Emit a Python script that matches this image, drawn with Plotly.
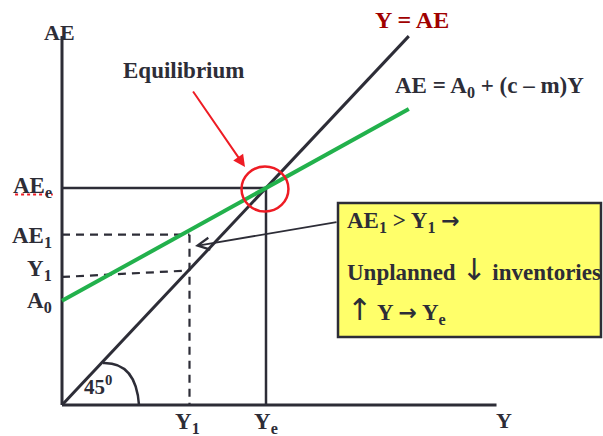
import plotly.graph_objects as go

# ---- data (economic units) ----
Y_MAX = 340            # end of the 45-degree line
A0 = 96                # autonomous expenditure
MPC_NET = 0.52         # (c - m)
YE = 200               # equilibrium income
AEE = 200              # equilibrium expenditure
Y1 = 125               # income below equilibrium
AE1 = 157              # expenditure at Y1
Y1_LEVEL = [118, 124]  # dashed Y1 guide (left, right)
X_AXIS_END = 426
Y_AXIS_END = 340

line45_x = [0, Y_MAX]
line45_y = [0, Y_MAX]
ae_x = [0, Y_MAX]
ae_y = [A0, A0 + MPC_NET * Y_MAX]

# pixel scale helpers for ranges (canvas 603x436, origin at px 62,405)
PXY, PXA = 1.02, 1.085
XR = [-62 / PXY, (603 - 62) / PXY]
YR = [(405 - 436) / PXA, 405 / PXA]

DARK = "#2d2d37"
GREEN = "#22b14c"
RED = "#ee1c24"
FONT = "Liberation Serif"

fig = go.Figure()

def line(x, y, color=DARK, width=2.5, dash="solid"):
    fig.add_trace(go.Scatter(x=x, y=y, mode="lines", hoverinfo="skip",
                             line=dict(color=color, width=width, dash=dash),
                             showlegend=False))

# axes
line([0, 0], [0, Y_AXIS_END], width=3)
line([0, X_AXIS_END], [0, 0], width=3)
# equilibrium guides
line([0, YE], [AEE, AEE], width=2.5)
line([YE, YE], [AEE, 0], width=2.5)
# dashed guides
line([0, Y1], [AE1, AE1], width=2.2, dash="8px,6px")
line([Y1, Y1], [AE1, 0], width=2.2, dash="8px,6px")
line([0, Y1], Y1_LEVEL, width=2.2, dash="8px,6px")
# curves
line(line45_x, line45_y, width=3)
line(ae_x, ae_y, color=GREEN, width=4)
# spellcheck-like red dotted underline under AEe
line([-46, -9], [194, 194], color=RED, width=2, dash="dot")

shapes = [
    dict(type="rect", xref="x", yref="y", x0=270.6, x1=528.4, y0=62.7, y1=186.2,
         fillcolor="#ffff6a", line=dict(color=DARK, width=2.5), layer="below"),
    dict(type="circle", xref="x", yref="y", x0=176, x1=222, y0=178.3, y1=219.8,
         line=dict(color=RED, width=2.5)),
    dict(type="path", xref="x", yref="y",
         path="M 40.2,38.7 Q 72.5,39.6 75.5,0",
         line=dict(color=DARK, width=2.5)),
]

def txt(x, y, s, size=23, color=DARK, xanchor="center", yanchor="middle"):
    return dict(x=x, y=y, xref="x", yref="y", text=s, showarrow=False,
                xanchor=xanchor, yanchor=yanchor,
                font=dict(family=FONT, size=size, color=color, weight="bold"))

RA = '<span style="font-family:DejaVu Sans;font-size:22px">→</span>'
DA = '<span style="font-family:DejaVu Sans;font-size:30px;font-weight:normal">↓</span>'
UA = '<span style="font-family:DejaVu Sans;font-size:30px;font-weight:normal">↑</span>'

annotations = [
    txt(-2, 343, "AE", 22),
    txt(433, -14, "Y", 22),
    txt(-8, 201, "AE<sub>e</sub>", 23, xanchor="right"),
    txt(-8, 155, "AE<sub>1</sub>", 23, xanchor="right"),
    txt(-8, 124, "Y<sub>1</sub>", 23, xanchor="right"),
    txt(-8, 95, "A<sub>0</sub>", 23, xanchor="right"),
    txt(Y1 - 2, -16.5, "Y<sub>1</sub>", 23),
    txt(YE, -16.5, "Y<sub>e</sub>", 23),
    txt(35, 18, "45<sup>0</sup>", 21),
    txt(119, 308, "Equilibrium", 23),
    txt(343, 355, "Y = AE", 24, color="#a00000"),
    txt(419, 293, "AE = A<sub>0</sub> + (c – m)Y", 23),
    txt(277, 168.5, "AE<sub>1</sub> &gt; Y<sub>1</sub> " + RA, 23, xanchor="left"),
    txt(277, 125, "Unplanned " + DA + " inventories", 23, xanchor="left"),
    txt(277, 87.5, UA + " Y " + RA + " Y<sub>e</sub>", 23, xanchor="left"),
    dict(x=179.4, y=219.4, ax=127.5, ay=290.3, xref="x", yref="y",
         axref="x", ayref="y", text="", showarrow=True, arrowhead=2,
         arrowsize=1.2, arrowwidth=2, arrowcolor=RED),
    dict(x=130.4, y=146.5, ax=270.6, ay=168.7, xref="x", yref="y",
         axref="x", ayref="y", text="", showarrow=True, arrowhead=5,
         arrowsize=1.3, arrowwidth=1.8, arrowcolor=DARK),
]

fig.update_layout(
    width=603, height=436,
    margin=dict(l=0, r=0, t=0, b=0),
    paper_bgcolor="white", plot_bgcolor="white",
    xaxis=dict(range=XR, visible=False, fixedrange=True),
    yaxis=dict(range=YR, visible=False, fixedrange=True),
    shapes=shapes, annotations=annotations, showlegend=False,
)

fig.write_html(
    "out.html",
    config={"displayModeBar": False},
    post_script="document.body.style.margin='0';document.body.style.overflow='hidden';",
)
